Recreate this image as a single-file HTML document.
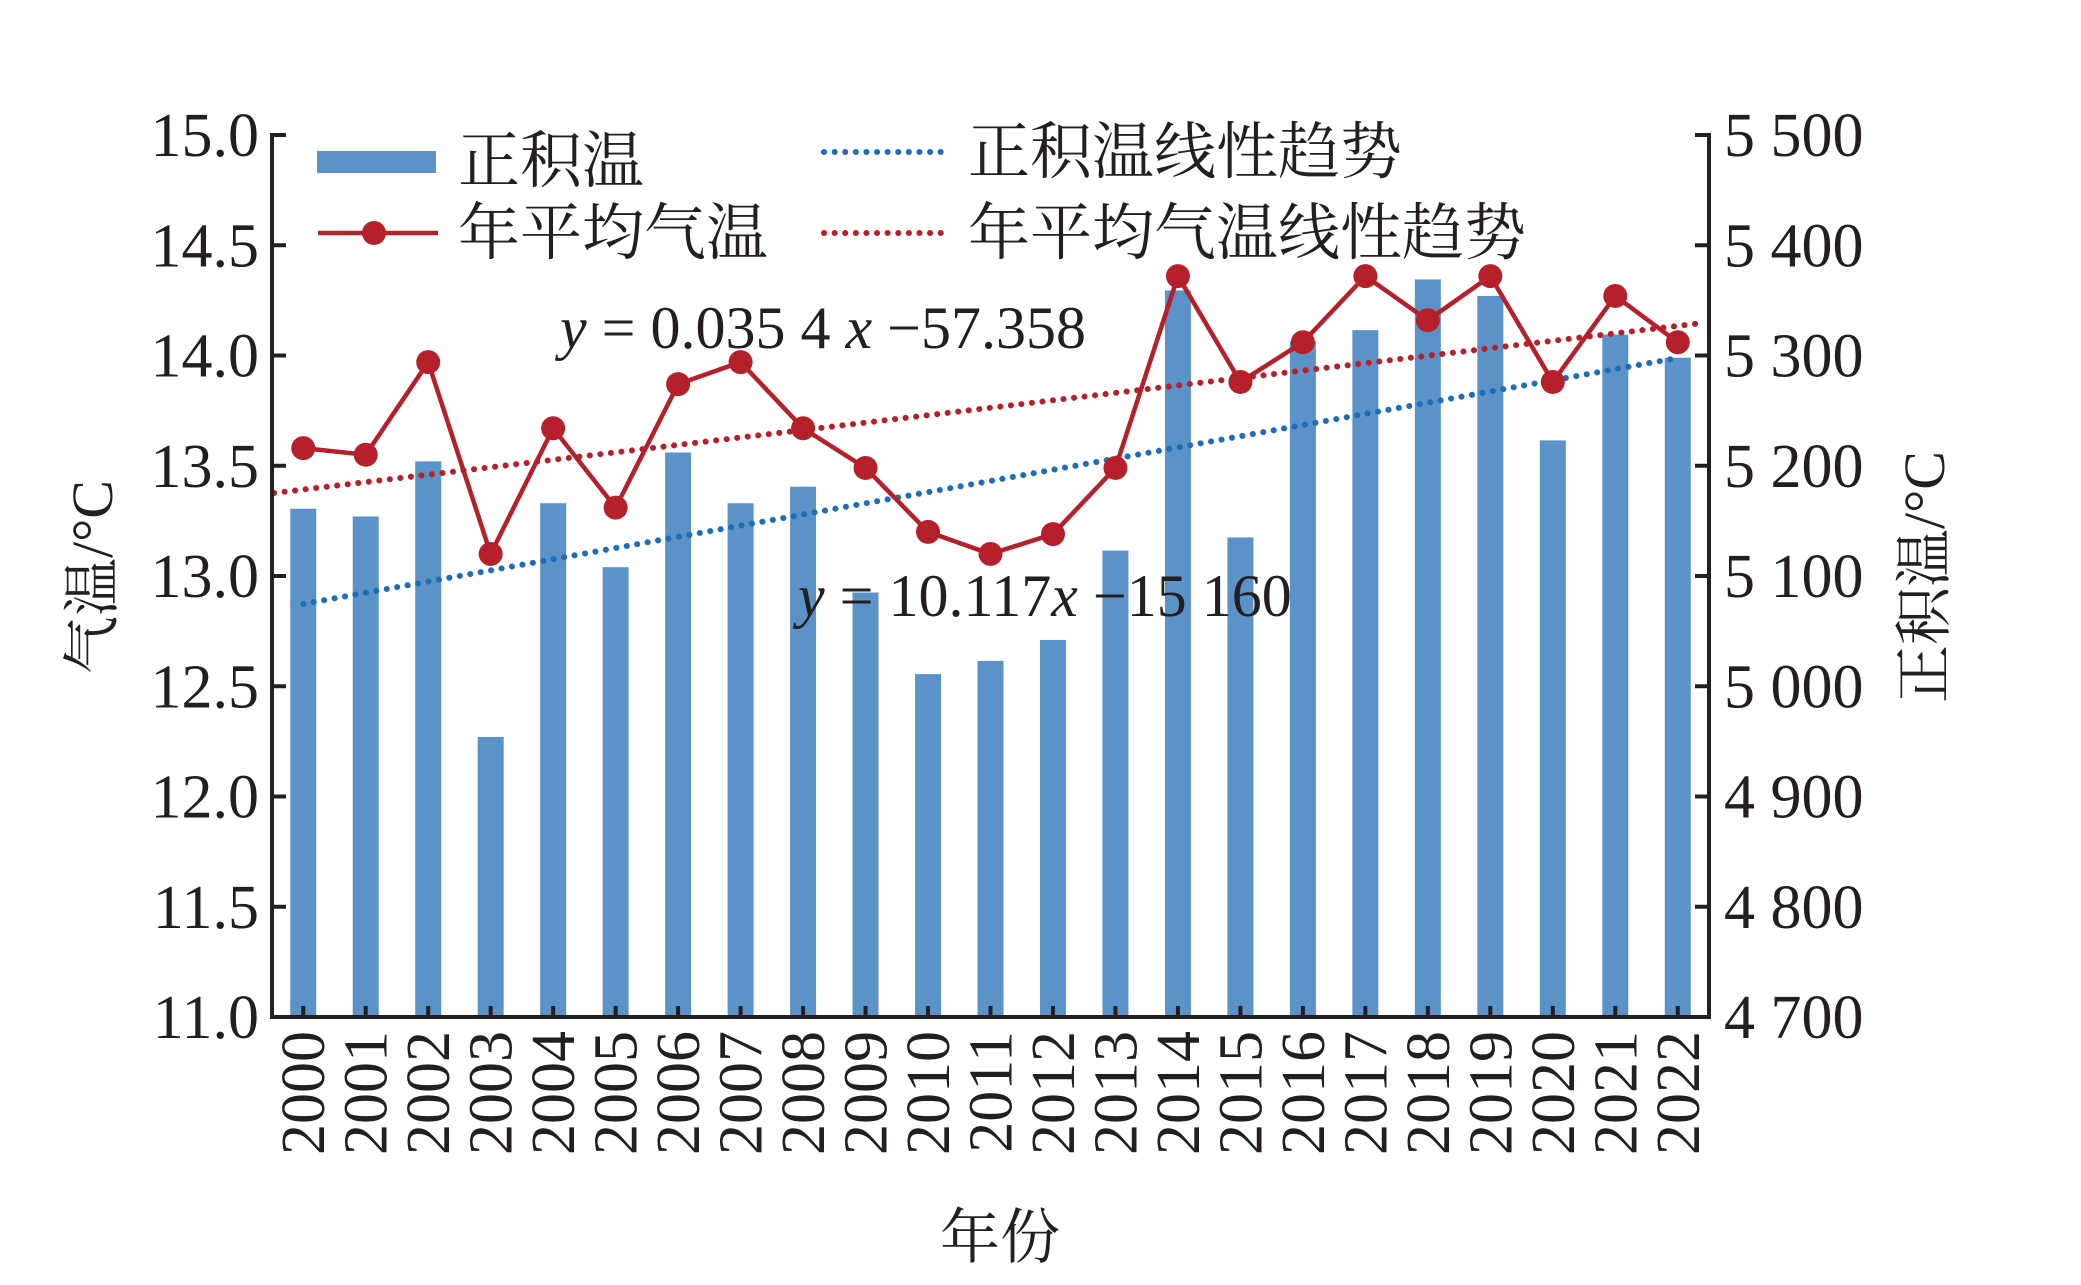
<!DOCTYPE html>
<html><head><meta charset="utf-8"><style>
html,body{margin:0;padding:0;background:#fff;}
svg{display:block;}
text{font-family:"Liberation Serif","Noto Serif CJK SC",serif;fill:#231f20;}
</style></head><body>
<svg id="chart" width="2081" height="1285" viewBox="0 0 2081 1285" xmlns="http://www.w3.org/2000/svg">
<g id="plot"></g>
<g>
  <rect x="317" y="151" width="119" height="22" fill="#5b93c9"/>
  <text x="458" y="182" font-size="62">正积温</text>
  <line x1="318" y1="233" x2="438" y2="233" stroke="#b5202a" stroke-width="4.5"/>
  <circle cx="374" cy="233" r="12" fill="#b5202a"/>
  <text x="458" y="254" font-size="62">年平均气温</text>
  <line x1="824" y1="152" x2="944" y2="152" stroke="#1f6db4" stroke-width="6" stroke-dasharray="0.1 10.5" stroke-linecap="round"/>
  <text x="968" y="173" font-size="62">正积温线性趋势</text>
  <line x1="824" y1="233" x2="944" y2="233" stroke="#b5202a" stroke-width="6" stroke-dasharray="0.1 10.5" stroke-linecap="round"/>
  <text x="968" y="254" font-size="62">年平均气温线性趋势</text>
</g>
<text x="560" y="348" font-size="60"><tspan font-style="italic">y</tspan> = 0.035 4 <tspan font-style="italic">x</tspan> −57.358</text>
<text x="798" y="616" font-size="60"><tspan font-style="italic">y</tspan> = 10.117<tspan font-style="italic">x</tspan> −15 160</text>
<text transform="translate(112,577) rotate(-90)" text-anchor="middle" font-size="58">气温/°C</text>
<text transform="translate(1944,577) rotate(-90)" text-anchor="middle" font-size="58">正积温/°C</text>
<text x="1000" y="1258" text-anchor="middle" font-size="60">年份</text>
</svg>
<script>
const years = ["2000","2001","2002","2003","2004","2005","2006","2007","2008","2009","2010","2011","2012","2013","2014","2015","2016","2017","2018","2019","2020","2021","2022"];
const accTemp = [5161,5154,5204,4954,5166,5108,5212,5166,5181,5085,5011,5023,5042,5123,5359,5135,5313,5323,5369,5354,5223,5319,5298];
const meanTemp = [13.58,13.55,13.97,13.10,13.67,13.31,13.87,13.97,13.67,13.49,13.20,13.10,13.19,13.49,14.36,13.88,14.06,14.36,14.16,14.36,13.88,14.27,14.06];
const leftTicks = ["11.0","11.5","12.0","12.5","13.0","13.5","14.0","14.5","15.0"];
const rightTicks = ["4 700","4 800","4 900","5 000","5 100","5 200","5 300","5 400","5 500"];

const NS = "http://www.w3.org/2000/svg";
const X0 = 272, X1 = 1709, Y0 = 1017, Y1 = 135;
const band = (X1 - X0) / years.length;
const xC = i => X0 + band * (i + 0.5);
const yL = v => Y0 - (v - 11) / 4 * (Y0 - Y1);
const yR = v => Y0 - (v - 4700) / 800 * (Y0 - Y1);
const plot = document.getElementById('plot');
function mk(tag, attrs, parent) {
  const e = document.createElementNS(NS, tag);
  for (const k in attrs) e.setAttribute(k, attrs[k]);
  (parent || plot).appendChild(e);
  return e;
}
// bars
const bw = 26;
accTemp.forEach((v, i) => {
  const r = mk('rect', {x: xC(i) - bw / 2, y: yR(v), width: bw, height: Y0 - yR(v), fill: '#5b93c9'});
  
  
});
// regression
function fit(arr) {
  const n = arr.length; let sx = 0, sy = 0, sxx = 0, sxy = 0;
  arr.forEach((v, i) => { sx += i; sy += v; sxx += i * i; sxy += i * v; });
  const b = (n * sxy - sx * sy) / (n * sxx - sx * sx);
  return {a: (sy - b * sx) / n, b};
}
const fa = fit(accTemp), fm = fit(meanTemp);
const toIdx = x => (x - X0) / band - 0.5;
const tb = mk('line', {x1: xC(0), y1: yR(fa.a), x2: xC(22), y2: yR(fa.a + fa.b * 22), stroke: '#1f6db4', 'stroke-width': 6, 'stroke-dasharray': '0.1 10.5', 'stroke-linecap': 'round'});


const i0 = toIdx(X0 + 2), i1 = toIdx(X1 - 4);
const tr = mk('line', {x1: X0 + 2, y1: yL(fm.a + fm.b * i0), x2: X1 - 4, y2: yL(fm.a + fm.b * i1), stroke: '#b5202a', 'stroke-width': 6, 'stroke-dasharray': '0.1 10.5', 'stroke-linecap': 'round'});


// line
const pl = mk('polyline', {points: meanTemp.map((v, i) => xC(i) + ',' + yL(v)).join(' '), fill: 'none', stroke: '#b5202a', 'stroke-width': 4.5});


meanTemp.forEach((v, i) => {
  const c = mk('circle', {cx: xC(i), cy: yL(v), r: 12, fill: '#b5202a'});
  
  
});
// axes
const ax = mk('path', {d: `M${X0 + 14},${Y1} H${X0} V${Y0} H${X1} V${Y1} H${X1 - 14}`, fill: 'none', stroke: '#231f20', 'stroke-width': 4});


leftTicks.forEach((t, i) => {
  const y = Y0 - i * (Y0 - Y1) / 8;
  const l = mk('line', {x1: X0, y1: y, x2: X0 + 14, y2: y, stroke: '#231f20', 'stroke-width': 4});
  
  
  const tx = mk('text', {x: 259, y: y + 21, 'text-anchor': 'end', 'font-size': 62});
  tx.textContent = t;
  
  
});
rightTicks.forEach((t, i) => {
  const y = Y0 - i * (Y0 - Y1) / 8;
  const l = mk('line', {x1: X1 - 14, y1: y, x2: X1, y2: y, stroke: '#231f20', 'stroke-width': 4});
  
  
  const tx = mk('text', {x: 1724, y: y + 21, 'font-size': 62});
  tx.textContent = t;
  
  
});
years.forEach((t, i) => {
  const l = mk('line', {x1: xC(i), y1: Y0, x2: xC(i), y2: Y0 - 11, stroke: '#231f20', 'stroke-width': 4});
  
  
  const tx = mk('text', {transform: `translate(${xC(i) + 21},1031) rotate(-90)`, 'text-anchor': 'end', 'font-size': 62});
  tx.textContent = t;
  
  
});
</script>
</body></html>
